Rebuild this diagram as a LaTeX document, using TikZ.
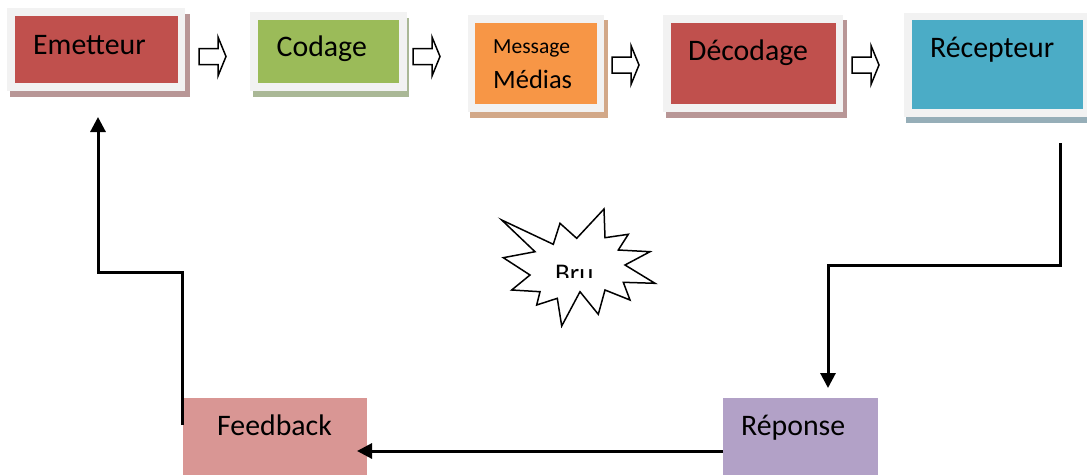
\documentclass[tikz,border=0pt]{standalone}
\usepackage{fontspec}
\setmainfont{Carlito}
\usetikzlibrary{arrows.meta,calc}

\definecolor{redbox}{HTML}{C0504D}
\definecolor{greenbox}{HTML}{9BBB59}
\definecolor{orangebox}{HTML}{F79646}
\definecolor{bluebox}{HTML}{4BACC6}
\definecolor{pinkbox}{HTML}{D99694}
\definecolor{purplebox}{HTML}{B2A1C7}
\definecolor{framegray}{HTML}{F2F2F2}
\definecolor{redshadow}{RGB}{184,150,150}
\definecolor{greenshadow}{RGB}{170,184,150}
\definecolor{orangeshadow}{RGB}{210,168,136}
\definecolor{blueshadow}{RGB}{150,174,184}

\begin{document}
\begin{tikzpicture}[x=1pt,y=-1pt,
  box/.style={draw=none, inner sep=0pt, outer sep=0pt, anchor=north west},
  lbl/.style={inner sep=0pt, anchor=base west, font=\fontsize{29.8}{35}\selectfont},
  conn/.style={line width=3pt, -{Triangle[width=15pt,length=15pt]}},
  blockarrow/.pic={\draw[line width=1.5pt, fill=white, line join=miter]
      (0,-8) -- (19,-8) -- (19,-19.5) -- (27,0) -- (19,19.5) -- (19,8) -- (0,8) -- cycle;}
]
\useasboundingbox (0,0) rectangle (1087,474);

% shadows and light frames of the top row
\fill[redshadow]    (10,14)  rectangle (190,97);
\fill[framegray]    (7,8)    rectangle (185,91);
\fill[greenshadow]  (253,18) rectangle (409,97);
\fill[framegray]    (250,12) rectangle (407,91);
\fill[orangeshadow] (470,20) rectangle (608,118);
\fill[framegray]    (468,15) rectangle (604,112);
\fill[redshadow]    (666,20) rectangle (847,118);
\fill[framegray]    (663,15) rectangle (843,112);
\fill[blueshadow]   (906,18) rectangle (1090,123);
\fill[framegray]    (904,13) rectangle (1090,117);

% coloured boxes
\node[box, fill=redbox,    minimum width=163pt, minimum height=67pt] (em)  at (15,16)  {};
\node[box, fill=greenbox,  minimum width=141pt, minimum height=63pt] (cod) at (258,20) {};
\node[box, fill=orangebox, minimum width=122pt, minimum height=81pt] (msg) at (475,23) {};
\node[box, fill=redbox,    minimum width=165pt, minimum height=81pt] (dec) at (671,23) {};
\node[box, fill=bluebox,   minimum width=171pt, minimum height=89pt] (rec) at (912,20) {};
\node[box, fill=pinkbox,   minimum width=184pt, minimum height=82pt] (fb)  at (183,398) {};
\node[box, fill=purplebox, minimum width=155pt, minimum height=82pt] (rep) at (723,398) {};

% labels
\node[lbl] (em-t)  at (33,54) {Emetteur};
\node[lbl] (cod-t) at (276.5,56) {Codage};
\node[lbl, font=\fontsize{21.5}{26}\selectfont] (msg-t1) at (493,53) {Message};
\node[lbl, font=\fontsize{26.5}{31}\selectfont] (msg-t2) at (493,88) {Médias};
\node[lbl] (dec-t) at (688,60) {Décodage};
\node[lbl] (rec-t) at (930,57) {Récepteur};
\node[lbl] (fb-t)  at (217,435) {Feedback};
\node[lbl] (rep-t) at (741,435) {Réponse};

% hollow arrows between the top boxes
\pic at (199,56.5) {blockarrow};
\pic at (413,56.5) {blockarrow};
\pic at (612,65) {blockarrow};
\pic at (852,65) {blockarrow};

% noise burst
\draw[line width=1.5pt, line join=miter, fill=white]
  (501.7,220) -- (553.3,244.3) -- (560,223.3) -- (576.7,238.3) -- (604,209)
  -- (605,237.7) -- (628.3,234.3) -- (618.3,250) -- (650,251.7) -- (625,265)
  -- (655,283.3) -- (623.3,282.3) -- (630,300) -- (605,290) -- (598.3,314.3)
  -- (580,291.7) -- (561.7,326) -- (557.3,298.3) -- (536.7,305) -- (540,291.7)
  -- (511.7,290) -- (530,275) -- (503.3,257.7) -- (535,251.7) -- cycle;
\begin{scope}
  \clip (540,255) rectangle (620,277);
  \node[lbl, font=\fontsize{27}{32}\selectfont] (bru) at (555,282) {Bru};
\end{scope}

% feedback loop
\coordinate (r0) at ([shift={(-23,34)}]rec.south east);
\draw[conn] (r0) -- ++(0,122) -| ([shift={(105,-10)}]rep.north west);
\draw[conn] ([shift={(0,12)}]rep.west) -- ([shift={(-10,12)}]fb.east);
\draw[conn] ([shift={(-1,27)}]fb.north west) -- ++(0,-153) -| ([shift={(83,34)}]em.south west);
\end{tikzpicture}
\end{document}
